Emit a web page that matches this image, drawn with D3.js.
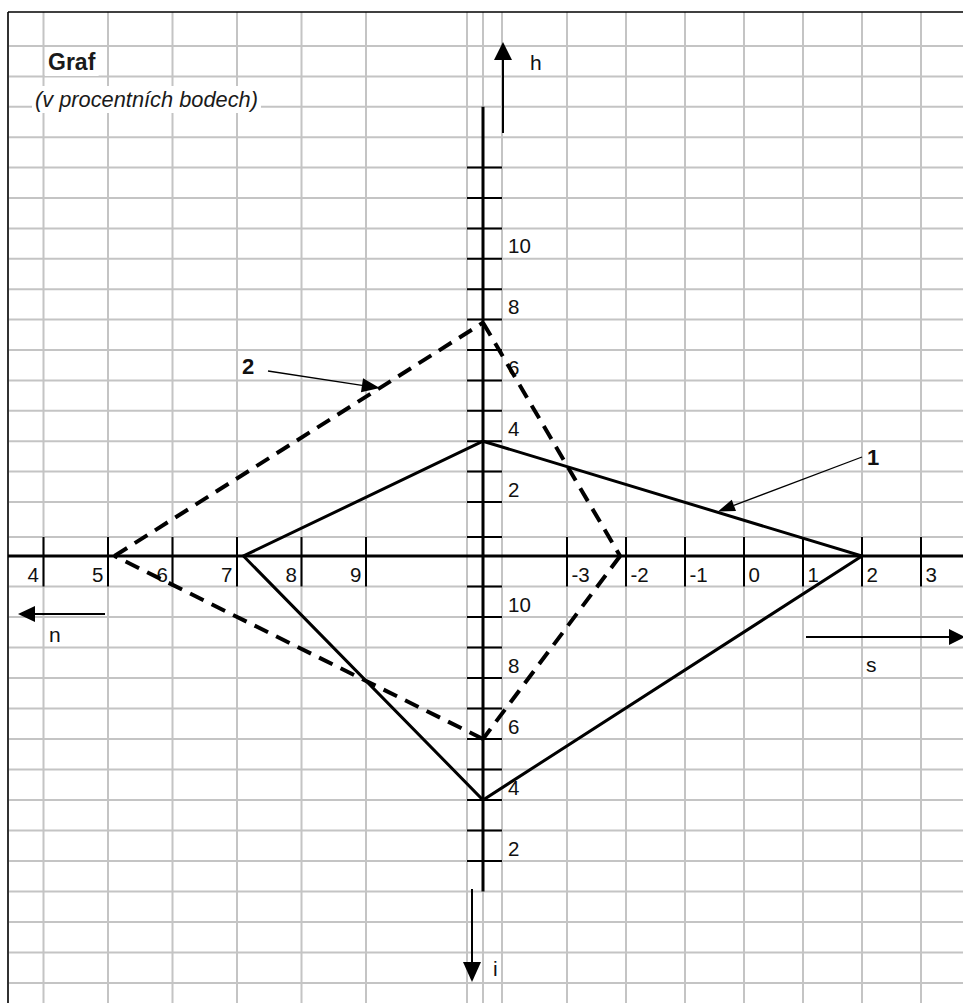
<!DOCTYPE html>
<html>
<head>
<meta charset="utf-8">
<script src="https://cdn.jsdelivr.net/npm/d3@7"></script>
<style>
  body { margin: 0; background: #fff; }
  text { font-family: "Liberation Sans", Arial, sans-serif; }
</style>
</head>
<body>
<script>
// axes of the quadrangle: growth (h), current account (s), inflation (i), unemployment (n)
var axisNames = ['h', 's', 'i', 'n'];
var series1 = [4, 2, 4, 7.1];
var series2 = [7.9, -2.1, 6, 5.1];
var seriesNames = ['1', '2'];

var hTicks = [2, 4, 6, 8, 10];
var iTicks = [10, 8, 6, 4, 2];
var nTicks = [4, 5, 6, 7, 8, 9];
var sTicks = [-3, -2, -1, 0, 1, 2, 3];

var title = 'Graf';
var subtitle = '(v procentních bodech)';

var W = 963, H = 1003;
var cx = 483, cy = 556;

var svg = d3.select('body').append('svg')
  .attr('width', W)
  .attr('height', H);

svg.append('rect').attr('width', W).attr('height', H).attr('fill', '#fff');

var hScale = d3.scaleLinear().domain([2, 17]).range([502, 46]);
var iScale = d3.scaleLinear().domain([2, 10]).range([861, 617]);
var nScale = d3.scaleLinear().domain([4, 9]).range([43.5, 366]);
var sScale = d3.scaleLinear().domain([-3, 3]).range([567, 921]);

// spreadsheet grid
var cols = [8].concat(d3.range(4, 10).map(nScale), [cx - 16, cx, cx + 19], d3.range(-3, 5).map(sScale));
var rows = d3.range(2, 18).map(hScale).concat([cy - 19], d3.range(-2, 12).map(iScale));

var grid = svg.append('g').attr('stroke', '#c4c4c4').attr('stroke-width', 2);
grid.selectAll('.gc').data(cols).enter().append('line')
  .attr('x1', function(d) { return d; }).attr('x2', function(d) { return d; })
  .attr('y1', 12).attr('y2', H);
grid.selectAll('.gr').data(rows).enter().append('line')
  .attr('x1', 8).attr('x2', W)
  .attr('y1', function(d) { return d; }).attr('y2', function(d) { return d; });

svg.append('line').attr('x1', 8).attr('x2', W).attr('y1', 12).attr('y2', 12)
  .attr('stroke', '#000').attr('stroke-width', 1.5);
svg.append('line').attr('x1', 8).attr('x2', 8).attr('y1', 12).attr('y2', H)
  .attr('stroke', '#000').attr('stroke-width', 1.5);

// title block
function boxedText(x, y, txt, weight, style, size) {
  var g = svg.append('g');
  var r = g.append('rect').attr('fill', '#fff');
  var t = g.append('text').attr('x', x).attr('y', y).text(txt)
    .attr('font-size', size).attr('font-weight', weight).attr('font-style', style)
    .attr('fill', '#1a1a1a');
  var b = t.node().getBBox();
  r.attr('x', b.x - 3).attr('y', b.y - 1).attr('width', b.width + 6).attr('height', b.height + 2);
}
boxedText(48, 70, title, 'bold', 'normal', 23);
boxedText(35, 107, subtitle, 'normal', 'italic', 21.8);

// axis ticks (black cell borders)
var ticks = svg.append('g').attr('stroke', '#000').attr('stroke-width', 2);
var vTickRows = d3.range(2, 14).map(hScale).concat([cy - 19], d3.range(2, 12).map(iScale));
ticks.selectAll('.vt').data(vTickRows).enter().append('line')
  .attr('x1', cx - 16).attr('x2', cx + 19)
  .attr('y1', function(d) { return d; }).attr('y2', function(d) { return d; });
var hTickCols = nTicks.map(nScale).concat(sTicks.map(sScale));
ticks.selectAll('.ht').data(hTickCols).enter().append('line')
  .attr('x1', function(d) { return d; }).attr('x2', function(d) { return d; })
  .attr('y1', cy - 19).attr('y2', iScale(11));

// main axes
svg.append('line').attr('x1', cx).attr('x2', cx).attr('y1', hScale(15)).attr('y2', iScale(1))
  .attr('stroke', '#000').attr('stroke-width', 3);
svg.append('line').attr('x1', 8).attr('x2', W).attr('y1', cy).attr('y2', cy)
  .attr('stroke', '#000').attr('stroke-width', 3);

// tick labels via d3 axes
function styleAxis(g) {
  g.select('.domain').remove();
  g.selectAll('.tick line').remove();
  g.attr('font-family', null).attr('font-size', null);
  g.selectAll('text').attr('font-size', 20.5).attr('fill', '#111').attr('dy', null);
}
svg.append('g').attr('transform', 'translate(' + (cx + 19) + ',0)')
  .call(d3.axisRight(hScale).tickValues(hTicks).tickSize(0).tickPadding(6).tickFormat(d3.format('d')))
  .call(styleAxis)
  .selectAll('text').attr('y', -6);
svg.append('g').attr('transform', 'translate(' + (cx + 19) + ',0)')
  .call(d3.axisRight(iScale).tickValues(iTicks).tickSize(0).tickPadding(6).tickFormat(d3.format('d')))
  .call(styleAxis)
  .selectAll('text').attr('y', -6);
svg.append('g').attr('transform', 'translate(0,' + cy + ')')
  .call(d3.axisBottom(nScale).tickValues(nTicks).tickSize(0).tickFormat(d3.format('d')))
  .call(styleAxis)
  .selectAll('text').attr('text-anchor', 'end').attr('x', -5).attr('y', 26);
svg.append('g').attr('transform', 'translate(0,' + cy + ')')
  .call(d3.axisBottom(sScale).tickValues(sTicks).tickSize(0).tickFormat(function(d) { return d < 0 ? '-' + (-d) : d; }))
  .call(styleAxis)
  .selectAll('text').attr('text-anchor', 'start').attr('x', 4).attr('y', 26);

// arrows
function arrow(x1, y1, x2, y2, len, half, sw) {
  var a = Math.atan2(y2 - y1, x2 - x1);
  var bx = x2 - len * Math.cos(a), by = y2 - len * Math.sin(a);
  svg.append('line').attr('x1', x1).attr('y1', y1).attr('x2', bx).attr('y2', by)
    .attr('stroke', '#000').attr('stroke-width', sw);
  var p = [[x2, y2],
    [bx + half * Math.sin(a), by - half * Math.cos(a)],
    [bx - half * Math.sin(a), by + half * Math.cos(a)]];
  svg.append('path').attr('d', 'M' + p.join('L') + 'Z').attr('fill', '#000');
}

// direction arrows with axis names
arrow(cx + 20, 133, cx + 20, 42, 18, 9, 2);
arrow(806, 637, 965, 637, 16, 8, 2);
arrow(cx - 11, 889, cx - 11, 982, 20, 9, 2);
arrow(105, 614, 18, 614, 17, 8, 2);
var nameXY = [[530, 70], [866, 672], [493, 976], [49, 642]];
svg.selectAll('.axname').data(axisNames).enter().append('text')
  .attr('x', function(d, i) { return nameXY[i][0]; })
  .attr('y', function(d, i) { return nameXY[i][1]; })
  .attr('font-size', 21).attr('fill', '#111')
  .text(function(d) { return d; });

// quadrangles
function vertex(k, v) {
  if (k === 0) return [cx, hScale(v)];
  if (k === 1) return [sScale(v), cy];
  if (k === 2) return [cx, iScale(v)];
  return [nScale(v), cy];
}
var pts1 = series1.map(function(v, k) { return vertex(k, v); });
var pts2 = series2.map(function(v, k) { return vertex(k, v); });

svg.append('path')
  .attr('d', d3.line()(pts1) + 'Z')
  .attr('fill', 'none').attr('stroke', '#000').attr('stroke-width', 3)
  .attr('stroke-linejoin', 'miter');

svg.selectAll('.dash').data(pts2).enter().append('line')
  .attr('x1', function(d) { return d[0]; }).attr('y1', function(d) { return d[1]; })
  .attr('x2', function(d, k) { return pts2[(k + 1) % 4][0]; })
  .attr('y2', function(d, k) { return pts2[(k + 1) % 4][1]; })
  .attr('stroke', '#000').attr('stroke-width', 4).attr('stroke-dasharray', '15,9');

// series pointers
function along(p, q, t) { return [p[0] + (q[0] - p[0]) * t, p[1] + (q[1] - p[1]) * t]; }
var tip1 = along(pts1[0], pts1[1], 0.62);
var tip2 = along(pts2[3], pts2[0], 0.72);
arrow(862, 457, tip1[0], tip1[1] - 1, 17, 6, 1.3);
arrow(268, 371, tip2[0], tip2[1], 18, 7, 1.3);

svg.append('text').attr('x', 867).attr('y', 465).text(seriesNames[0])
  .attr('font-family', '"Liberation Serif", serif').attr('font-weight', 'bold')
  .attr('font-size', 22).attr('fill', '#111');
svg.append('text').attr('x', 242).attr('y', 374).text(seriesNames[1])
  .attr('font-family', '"Liberation Serif", serif').attr('font-weight', 'bold')
  .attr('font-size', 22).attr('fill', '#111');
</script>
</body>
</html>
